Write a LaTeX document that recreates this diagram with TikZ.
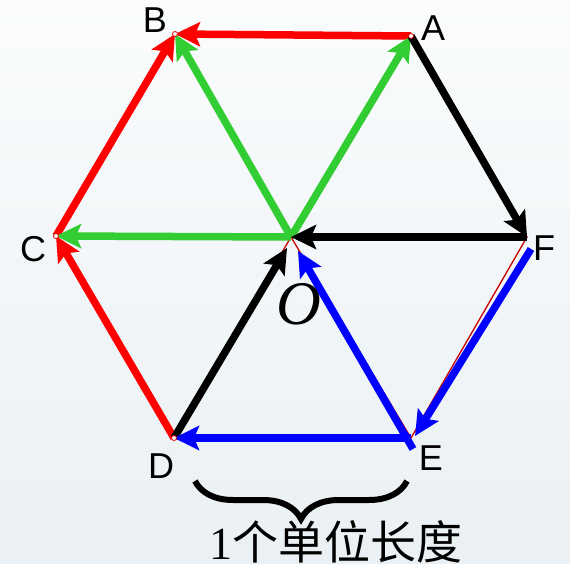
\documentclass[tikz,border=0pt]{standalone}
\usepackage{fontspec}
\setmainfont{Liberation Serif}
\setsansfont{Liberation Sans}
\newfontfamily\cjkfont{Noto Sans CJK SC}
\usetikzlibrary{arrows.meta,decorations.pathreplacing}

\begin{document}
\begin{tikzpicture}[x=1pt,y=-1pt]
\tikzset{
  hexline/.style={draw={rgb,255:red,200;green,0;blue,0},line width=1.3pt},
  vecarrow/.style={line width=7.5pt,-{Stealth[length=25pt,width=24pt,inset=5pt]}},
  vertexdot/.style={circle,draw={rgb,255:red,220;green,0;blue,0},fill=white,line width=0.8pt,minimum size=5pt,inner sep=0pt},
  vertexlabel/.style={font=\sffamily\fontsize{36}{36}\selectfont,inner sep=0pt}
}
\definecolor{vred}{RGB}{255,0,0}
\definecolor{vgreen}{RGB}{50,205,50}
\definecolor{vblue}{RGB}{0,0,255}
\shade[top color={rgb,255:red,250;green,252;blue,253},bottom color={rgb,255:red,234;green,240;blue,243}]
  (0,0) rectangle (570,564);
\useasboundingbox (0,0) rectangle (570,564);
% vertices of the hexagon
\coordinate (A) at (411,36);
\coordinate (B) at (175,34);
\coordinate (C) at (56,236);
\coordinate (D) at (174,438);
\coordinate (E) at (411,438);
\coordinate (F) at (527,237);
\coordinate (O) at (291,237);
% shifted ends for the offset vectors
\coordinate (Fb) at (531,249);
\coordinate (Eb) at (415,436);
\coordinate (Ec) at (413,449);
\coordinate (Ob) at (298,251);
\coordinate (Od) at (287,248);
% thin outline
\draw[hexline] (A) -- (B) -- (C) -- (D) -- (E) -- (F) -- cycle;
\draw[hexline] (O) -- (D) (O) -- (E) (O) -- (F);
% vectors
\draw[vecarrow,vred] (A) -- (B);
\draw[vecarrow,vred] (C) -- (B);
\draw[vecarrow,vred] (D) -- (C);
\draw[vecarrow,vgreen] (O) -- (B);
\draw[vecarrow,vgreen] (O) -- (A);
\draw[vecarrow,vgreen] (O) -- (C);
\draw[vecarrow,black] (A) -- (F);
\draw[vecarrow,black] (F) -- (O);
\draw[vecarrow,black] (D) -- (Od);
\draw[vecarrow,vblue] (Fb) -- (Eb);
\draw[vecarrow,vblue] (Ec) -- (Ob);
\draw[vecarrow,vblue] (E) -- (D);
% vertex dots
\node[vertexdot] (dotA) at (A) {};
\node[vertexdot] (dotB) at (B) {};
\node[vertexdot] (dotC) at (C) {};
\node[vertexdot] (dotD) at (D) {};
% labels
\node[vertexlabel] (labA) at (433,28) {A};
\node[vertexlabel] (labB) at (155,20) {B};
\node[vertexlabel] (labC) at (33,249) {C};
\node[vertexlabel] (labD) at (161,466) {D};
\node[vertexlabel] (labE) at (431,458) {E};
\node[vertexlabel] (labF) at (544,248) {F};
\node[font=\fontsize{62}{62}\selectfont\itshape,inner sep=0pt] (labO) at (299,304) {O};
% unit length brace
\coordinate (brL) at (195,481);
\coordinate (brR) at (407,481);
\draw[line width=6pt,decorate,decoration={brace,mirror,amplitude=38pt}] (brL) -- (brR);
\node[anchor=base,inner sep=0pt,font=\fontsize{46}{46}\selectfont] (unit) at (336,559)
  {1{\cjkfont 个单位长度}};
\end{tikzpicture}
\end{document}
